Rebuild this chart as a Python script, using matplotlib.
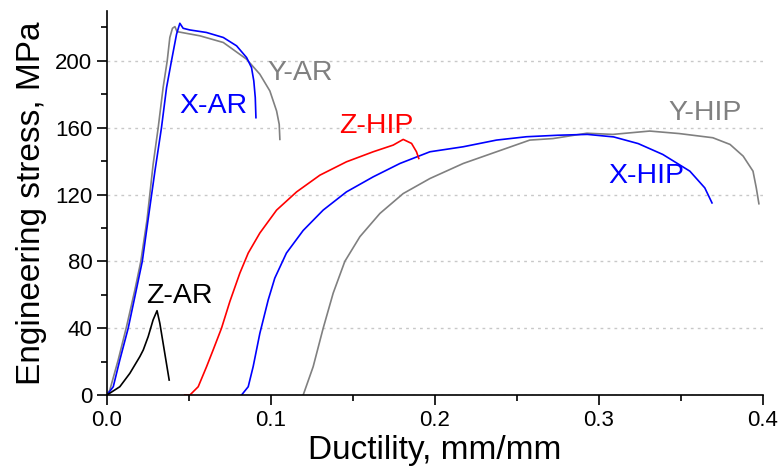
import matplotlib
matplotlib.use('Agg')
import matplotlib.pyplot as plt
from matplotlib.ticker import MultipleLocator

plt.rcParams['font.family'] = ['Liberation Sans', 'DejaVu Sans']

# curves (strain mm/mm, stress MPa)
x_ar_e = [0.0, 0.0039, 0.0079, 0.013, 0.0171, 0.0216, 0.025, 0.0293, 0.0333, 0.0364, 0.0394, 0.0425,
          0.0445, 0.0465, 0.0506, 0.0607, 0.071, 0.0791, 0.0852, 0.0882, 0.0896, 0.0905, 0.0909]
x_ar_s = [0, 5, 21, 40, 59, 80, 104, 134, 160, 184, 200, 216,
          222.5, 219.5, 218.5, 217, 214, 209, 202, 196, 188, 178, 166]

y_ar_e = [0.0, 0.0018, 0.0069, 0.012, 0.0171, 0.0207, 0.0245, 0.0282, 0.0313, 0.0343, 0.0368, 0.0384,
          0.040, 0.0415, 0.0428, 0.0567, 0.071, 0.0852, 0.0933, 0.0994, 0.1035, 0.1051, 0.1055]
y_ar_s = [0, 3, 21, 41, 63, 80, 105, 138, 160, 184, 200, 214,
          219.5, 220.5, 217.5, 215, 211, 201, 192, 182, 170, 162, 153]

z_ar_e = [0.0, 0.0079, 0.014, 0.0201, 0.0222, 0.0252, 0.0282, 0.0306, 0.0323, 0.038]
z_ar_s = [0, 5, 13, 23, 27, 35, 45, 50.5, 43, 9]

z_hip_e = [0.0475, 0.0506, 0.0557, 0.0608, 0.0648, 0.0699, 0.075, 0.0811, 0.0862, 0.0933, 0.1035,
           0.1157, 0.1299, 0.1461, 0.1624, 0.1746, 0.1807, 0.1858, 0.1888, 0.1902]
z_hip_s = [0, 0, 5, 17, 27, 40, 56, 73, 85, 97, 110.7,
           121.6, 131.6, 139.6, 145.6, 149.6, 153, 150.6, 145.6, 141.6]

x_hip_e = [0.0821, 0.0862, 0.0892, 0.0933, 0.0984, 0.1024, 0.1095, 0.1197, 0.1319, 0.1461, 0.1624,
           0.1787, 0.197, 0.2173, 0.2376, 0.2559, 0.275, 0.293, 0.309, 0.324, 0.339, 0.3555, 0.3646, 0.369]
x_hip_s = [0, 5, 17, 37, 57, 70, 85, 98.5, 110.7, 121.6, 130.6,
           138.6, 145.6, 148.6, 152.6, 154.6, 155.5, 156, 154.5, 150.5, 144, 134, 124, 115]

y_hip_e = [0.1197, 0.1258, 0.1319, 0.138, 0.1451, 0.1543, 0.1665, 0.1807, 0.197, 0.2173, 0.2376,
           0.2579, 0.272, 0.2927, 0.3085, 0.331, 0.349, 0.3695, 0.38, 0.388, 0.394, 0.396, 0.3976]
y_hip_s = [0, 17, 40, 61, 80, 94.8, 108.7, 120.6, 129.6, 138.6, 145.6,
           152.6, 153.5, 156.7, 156, 158, 156.5, 154, 150, 143, 134, 124, 114.5]

labels = ['X-AR', 'Y-AR', 'Z-AR', 'Z-HIP', 'X-HIP', 'Y-HIP']
label_x = [0.065, 0.1177, 0.0445, 0.1646, 0.329, 0.3646]
label_y = [173, 192.6, 59, 161, 131, 168.6]

blue, gray, red = '#0000ff', '#808080', '#ff0000'

fig = plt.figure(figsize=(7.8, 4.67), dpi=100)
ax = fig.add_axes([0.137, 0.154, 0.841, 0.823])

ax.plot(y_ar_e, y_ar_s, color=gray, lw=1.2)
ax.plot(x_ar_e, x_ar_s, color=blue, lw=1.2)
ax.plot(z_ar_e, z_ar_s, color='black', lw=1.2)
ax.plot(y_hip_e, y_hip_s, color=gray, lw=1.2)
ax.plot(x_hip_e, x_hip_s, color=blue, lw=1.2)
ax.plot(z_hip_e, z_hip_s, color=red, lw=1.2)

for lab, lx, ly, c in zip(labels, label_x, label_y, [blue, gray, 'black', red, blue, gray]):
    ax.text(lx, ly, lab, color=c, fontsize=20.5, ha='center', va='center')

ax.set_xlim(0, 0.4)
ax.set_ylim(0, 230)
ax.xaxis.set_major_locator(MultipleLocator(0.1))
ax.xaxis.set_minor_locator(MultipleLocator(0.05))
ax.yaxis.set_major_locator(MultipleLocator(40))
ax.yaxis.set_minor_locator(MultipleLocator(20))
ax.xaxis.set_major_formatter(plt.FuncFormatter(lambda v, p: '%.1f' % v))
ax.grid(axis='y', which='major', color='#c8c8c8', ls=(0, (2, 3)), lw=1)
ax.set_axisbelow(True)
for s in ['top', 'right']:
    ax.spines[s].set_visible(False)
ax.spines['left'].set_linewidth(1.2)
ax.spines['bottom'].set_linewidth(1.2)
ax.tick_params(which='major', length=7, width=1.2, labelsize=16, direction='out')
ax.tick_params(which='minor', length=4, width=1.2, direction='out')
ax.set_xlabel('Ductility, mm/mm', fontsize=24, labelpad=3)
ax.set_ylabel('Engineering stress, MPa', fontsize=24, labelpad=6)

fig.savefig('out.png', dpi=100)
